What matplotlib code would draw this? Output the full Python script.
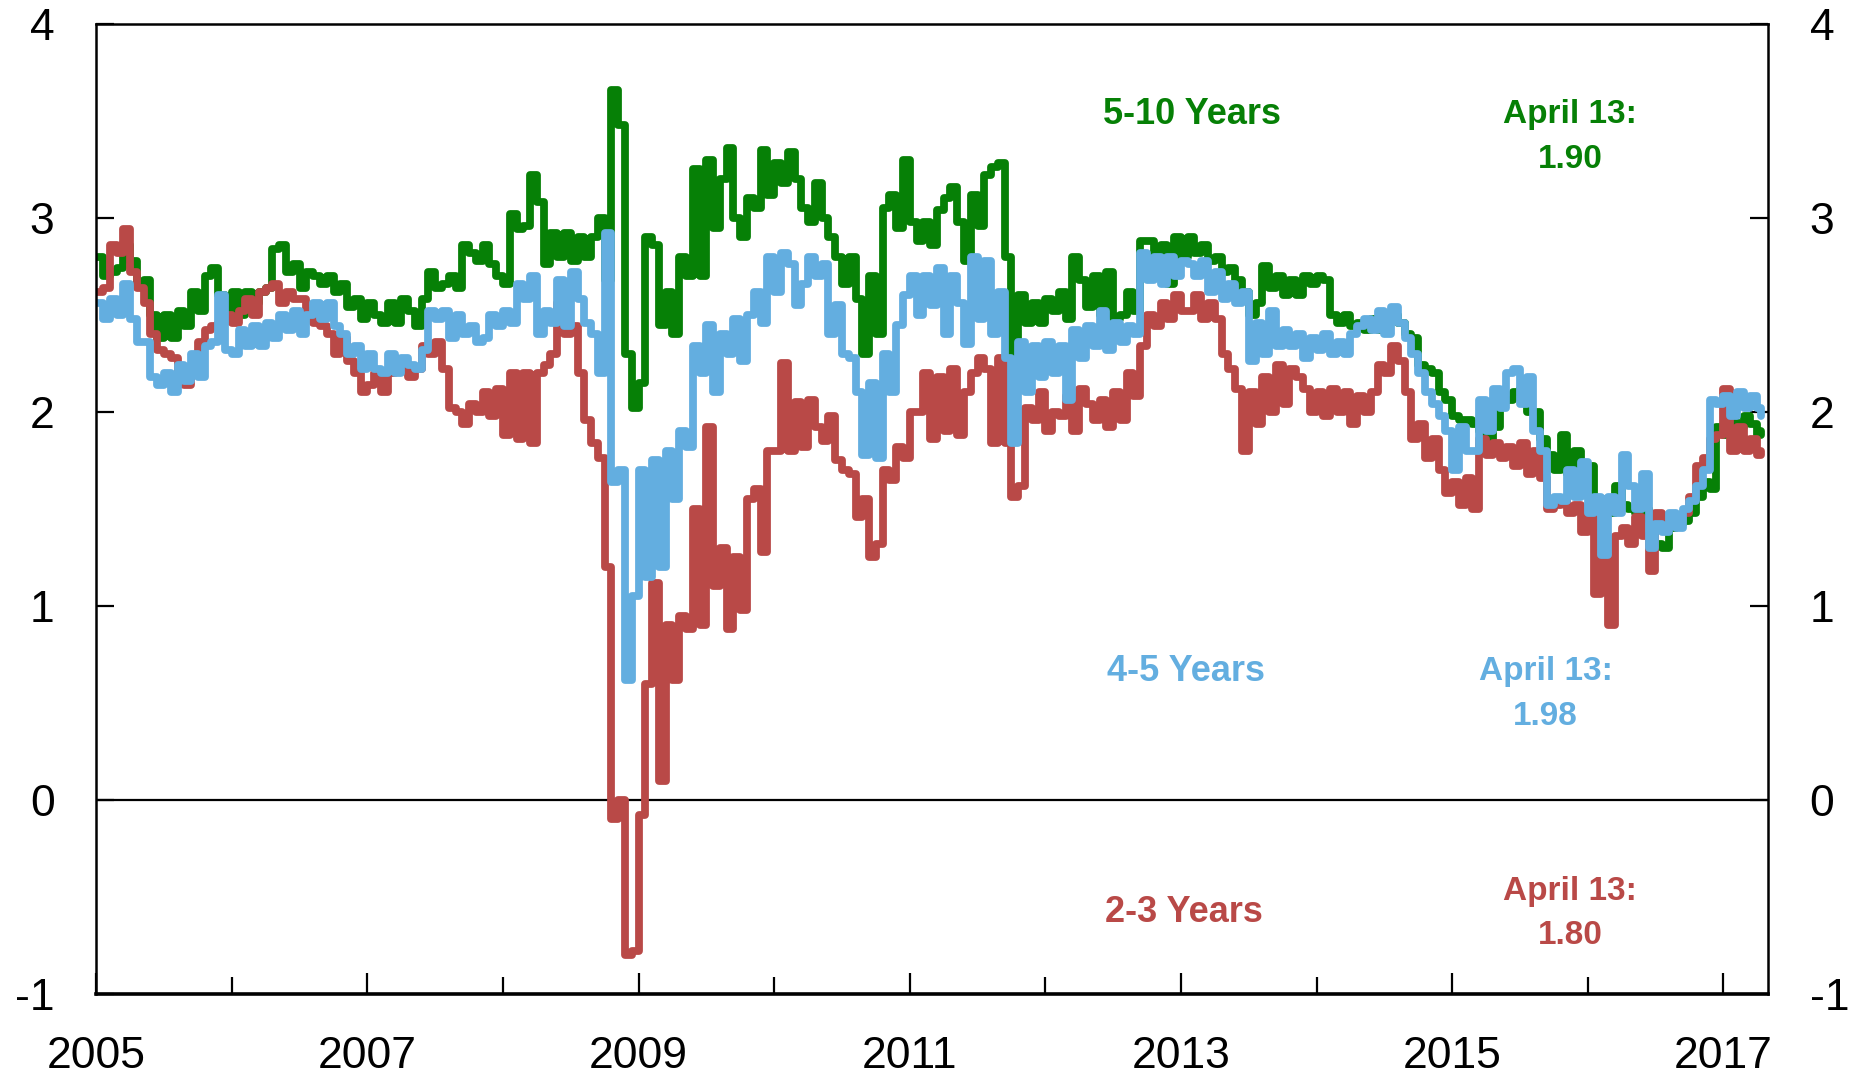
import matplotlib.pyplot as plt
import numpy as np

plt.rcParams['font.family'] = ['Liberation Sans', 'DejaVu Sans']
plt.rcParams['axes.unicode_minus'] = False

# values, one row per year, every 0.05 yr from 2005.00
# last value is April 13, 2017
green_5_10 = [
    2.80, 2.70, 2.72, 2.74, 2.86, 2.78, 2.66, 2.68, 2.50, 2.38, 2.50, 2.38, 2.52, 2.44, 2.62, 2.52, 2.70, 2.74, 2.60, 2.48,  # 2005
    2.62, 2.50, 2.62, 2.56, 2.62, 2.64, 2.84, 2.86, 2.72, 2.76, 2.64, 2.72, 2.70, 2.66, 2.70, 2.62, 2.66, 2.54, 2.58, 2.48,  # 2006
    2.56, 2.50, 2.46, 2.56, 2.46, 2.58, 2.52, 2.44, 2.58, 2.72, 2.64, 2.66, 2.70, 2.64, 2.86, 2.82, 2.78, 2.86, 2.76, 2.70,  # 2007
    2.66, 3.02, 2.94, 2.96, 3.22, 3.08, 2.76, 2.92, 2.80, 2.92, 2.78, 2.90, 2.80, 2.90, 3.00, 2.68, 3.66, 3.48, 2.30, 2.02,  # 2008
    2.15, 2.90, 2.86, 2.45, 2.62, 2.40, 2.80, 2.70, 3.25, 2.70, 3.30, 2.95, 3.20, 3.36, 3.00, 2.90, 3.10, 3.05, 3.35, 3.12,  # 2009
    3.28, 3.18, 3.34, 3.20, 3.05, 2.98, 3.18, 3.00, 2.90, 2.80, 2.66, 2.80, 2.58, 2.30, 2.70, 2.40, 3.05, 3.12, 2.95, 3.30,  # 2010
    2.98, 2.88, 2.98, 2.86, 3.04, 3.10, 3.16, 2.98, 2.78, 3.12, 2.96, 3.22, 3.26, 3.28, 2.80, 2.20, 2.60, 2.46, 2.56, 2.46,  # 2011
    2.58, 2.52, 2.62, 2.48, 2.80, 2.68, 2.54, 2.70, 2.50, 2.72, 2.48, 2.50, 2.62, 2.52, 2.88, 2.88, 2.72, 2.86, 2.66, 2.90,  # 2012
    2.80, 2.90, 2.82, 2.86, 2.78, 2.80, 2.72, 2.74, 2.68, 2.62, 2.50, 2.56, 2.75, 2.64, 2.70, 2.60, 2.68, 2.60, 2.70, 2.66,  # 2013
    2.70, 2.68, 2.50, 2.46, 2.50, 2.44, 2.46, 2.42, 2.48, 2.42, 2.46, 2.50, 2.46, 2.40, 2.38, 2.24, 2.22, 2.20, 2.10, 2.06,  # 2014
    1.98, 1.96, 1.96, 1.94, 1.90, 1.84, 1.92, 2.05, 2.06, 2.10, 2.12, 2.00, 2.00, 1.86, 1.78, 1.70, 1.88, 1.68, 1.80, 1.66,  # 2015
    1.72, 1.54, 1.54, 1.48, 1.62, 1.52, 1.50, 1.48, 1.50, 1.44, 1.32, 1.30, 1.40, 1.42, 1.44, 1.48, 1.56, 1.64, 1.60, 1.92,  # 2016
    1.88, 1.95, 1.92, 1.98, 1.94, 1.88, 1.90,  # 2017
]
blue_4_5 = [
    2.56, 2.48, 2.58, 2.50, 2.66, 2.48, 2.36, 2.36, 2.18, 2.14, 2.20, 2.10, 2.24, 2.16, 2.30, 2.18, 2.34, 2.36, 2.60, 2.32,  # 2005
    2.30, 2.42, 2.34, 2.44, 2.34, 2.46, 2.38, 2.50, 2.42, 2.52, 2.40, 2.50, 2.56, 2.48, 2.56, 2.44, 2.40, 2.30, 2.34, 2.22,  # 2006
    2.30, 2.22, 2.20, 2.30, 2.20, 2.28, 2.24, 2.22, 2.32, 2.52, 2.48, 2.52, 2.38, 2.50, 2.40, 2.44, 2.36, 2.38, 2.50, 2.44,  # 2007
    2.52, 2.46, 2.66, 2.58, 2.70, 2.40, 2.52, 2.46, 2.68, 2.44, 2.72, 2.58, 2.46, 2.40, 2.20, 2.92, 1.64, 1.70, 0.62, 1.05,  # 2008
    1.70, 1.15, 1.75, 1.20, 1.80, 1.55, 1.90, 1.82, 2.34, 2.20, 2.45, 2.10, 2.40, 2.30, 2.48, 2.26, 2.50, 2.62, 2.46, 2.80,  # 2009
    2.62, 2.82, 2.76, 2.55, 2.66, 2.80, 2.70, 2.76, 2.40, 2.55, 2.30, 2.28, 2.10, 1.78, 2.15, 1.76, 2.30, 2.10, 2.45, 2.60,  # 2010
    2.70, 2.50, 2.70, 2.55, 2.74, 2.40, 2.70, 2.56, 2.35, 2.80, 2.48, 2.78, 2.40, 2.62, 2.28, 1.84, 2.36, 2.10, 2.34, 2.18,  # 2011
    2.36, 2.20, 2.34, 2.06, 2.42, 2.28, 2.44, 2.34, 2.52, 2.32, 2.46, 2.36, 2.44, 2.40, 2.82, 2.68, 2.80, 2.66, 2.80, 2.70,  # 2012
    2.78, 2.76, 2.70, 2.78, 2.62, 2.72, 2.58, 2.66, 2.56, 2.62, 2.26, 2.46, 2.30, 2.52, 2.34, 2.42, 2.34, 2.40, 2.28, 2.38,  # 2013
    2.32, 2.40, 2.30, 2.36, 2.30, 2.40, 2.44, 2.48, 2.42, 2.52, 2.40, 2.54, 2.46, 2.38, 2.30, 2.20, 2.10, 2.04, 1.98, 1.90,  # 2014
    1.70, 1.92, 1.80, 1.80, 2.06, 1.90, 2.12, 2.02, 2.20, 2.22, 2.04, 2.18, 1.90, 1.80, 1.52, 1.56, 1.54, 1.70, 1.56, 1.74,  # 2015
    1.48, 1.56, 1.26, 1.56, 1.48, 1.78, 1.62, 1.50, 1.68, 1.30, 1.42, 1.38, 1.48, 1.40, 1.50, 1.54, 1.62, 1.70, 2.06, 2.04,  # 2016
    2.08, 1.98, 2.10, 2.02, 2.08, 2.02, 1.98,  # 2017
]
red_2_3 = [
    2.62, 2.64, 2.86, 2.82, 2.94, 2.72, 2.64, 2.56, 2.40, 2.32, 2.30, 2.28, 2.18, 2.14, 2.22, 2.36, 2.42, 2.44, 2.46, 2.50,  # 2005
    2.46, 2.52, 2.58, 2.50, 2.62, 2.64, 2.66, 2.56, 2.62, 2.58, 2.58, 2.52, 2.46, 2.44, 2.40, 2.30, 2.38, 2.26, 2.20, 2.10,  # 2006
    2.14, 2.20, 2.10, 2.20, 2.24, 2.22, 2.18, 2.22, 2.34, 2.30, 2.36, 2.22, 2.02, 2.00, 1.94, 2.04, 2.00, 2.10, 1.98, 2.12,  # 2007
    1.88, 2.20, 1.86, 2.20, 1.84, 2.20, 2.24, 2.30, 2.56, 2.40, 2.44, 2.20, 1.96, 1.84, 1.76, 1.20, -0.10, 0.00, -0.80, -0.78,  # 2008
    -0.08, 0.60, 1.12, 0.10, 0.90, 0.62, 0.95, 0.88, 1.50, 0.90, 1.92, 1.10, 1.30, 0.88, 1.25, 0.98, 1.55, 1.60, 1.28, 1.80,  # 2009
    1.80, 2.25, 1.80, 2.05, 1.82, 2.06, 1.92, 1.85, 1.98, 1.75, 1.70, 1.68, 1.46, 1.55, 1.25, 1.32, 1.70, 1.65, 1.82, 1.76,  # 2010
    2.00, 2.00, 2.20, 1.86, 2.18, 1.90, 2.22, 1.88, 2.10, 2.20, 2.28, 2.22, 1.84, 2.28, 1.84, 1.56, 1.62, 2.02, 1.96, 2.10,  # 2011
    1.90, 2.00, 1.98, 2.08, 1.90, 2.12, 2.04, 1.96, 2.06, 1.92, 2.10, 1.96, 2.20, 2.08, 2.34, 2.50, 2.44, 2.56, 2.48, 2.60,  # 2012
    2.52, 2.52, 2.60, 2.48, 2.56, 2.48, 2.30, 2.22, 2.12, 1.80, 2.10, 1.94, 2.18, 2.00, 2.24, 2.04, 2.22, 2.18, 2.12, 2.00,  # 2013
    2.10, 1.98, 2.12, 2.00, 2.10, 1.94, 2.08, 2.00, 2.10, 2.24, 2.20, 2.34, 2.26, 2.10, 1.86, 1.94, 1.76, 1.86, 1.70, 1.58,  # 2014
    1.64, 1.52, 1.66, 1.50, 1.86, 1.78, 1.84, 1.76, 1.82, 1.72, 1.84, 1.68, 1.80, 1.66, 1.50, 1.52, 1.54, 1.48, 1.52, 1.38,  # 2015
    1.46, 1.06, 1.24, 0.90, 1.36, 1.40, 1.32, 1.46, 1.36, 1.18, 1.48, 1.40, 1.42, 1.44, 1.48, 1.56, 1.72, 1.76, 1.86, 1.88,  # 2016
    2.12, 1.80, 1.92, 1.80, 1.86, 1.78, 1.80,  # 2017
]
dates = list(2005 + 0.05 * np.arange(len(green_5_10) - 1)) + [2017.28]

year_ticks = [2005, 2007, 2009, 2011, 2013, 2015, 2017]
minor_years = [2006, 2008, 2010, 2012, 2014, 2016]
y_ticks = [-1, 0, 1, 2, 3, 4]

c_green = '#068006'
c_blue = '#63AEE0'
c_red = '#B94947'

fig = plt.figure(figsize=(18.65, 10.81), dpi=100)
ax = fig.add_axes([0.0516, 0.0805, 0.8964, 0.8975])

ax.axhline(0, color='black', lw=1.6, zorder=1)
for vals, col in [(green_5_10, c_green), (red_2_3, c_red), (blue_4_5, c_blue)]:
    ax.plot(dates, vals, drawstyle='steps-post', color=col, lw=5.6,
            solid_joinstyle='round', solid_capstyle='round', zorder=2)

ax.set_xlim(2005, 2017.33)
ax.set_ylim(-1, 4)
ax.set_yticks(y_ticks)
ax.set_yticklabels([str(v) for v in y_ticks])
ax.set_xticks(year_ticks)
ax.set_xticklabels([str(y) for y in year_ticks])
ax.set_xticks(minor_years, minor=True)

ax.tick_params(axis='y', direction='in', length=13, width=1.6, left=True, right=True,
               labelleft=True, labelright=True, pad=30, labelsize=32)
ax.tick_params(axis='x', which='major', direction='in', length=15, width=1.6, pad=30, labelsize=32)
ax.tick_params(axis='x', which='minor', direction='in', length=12, width=1.6)
for s in ax.spines.values():
    s.set_linewidth(1.8)
ax.spines['bottom'].set_linewidth(2.6)

bold_wide = dict(fontsize=26, fontweight='bold', ha='center', va='center')
bold_narrow = dict(fontsize=24, fontweight='bold', ha='center', va='center')

ax.text(2013.08, 3.53, '5-10 Years', color=c_green, **bold_wide)
ax.text(2013.04, 0.66, '4-5 Years', color=c_blue, **bold_wide)
ax.text(2013.02, -0.58, '2-3 Years', color=c_red, **bold_wide)

ax.text(2015.87, 3.53, 'April 13:', color=c_green, **bold_narrow)
ax.text(2015.87, 3.30, '1.90', color=c_green, **bold_narrow)
ax.text(2015.69, 0.66, 'April 13:', color=c_blue, **bold_narrow)
ax.text(2015.69, 0.43, '1.98', color=c_blue, **bold_narrow)
ax.text(2015.87, -0.47, 'April 13:', color=c_red, **bold_narrow)
ax.text(2015.87, -0.70, '1.80', color=c_red, **bold_narrow)

fig.savefig('out.png', dpi=100)
